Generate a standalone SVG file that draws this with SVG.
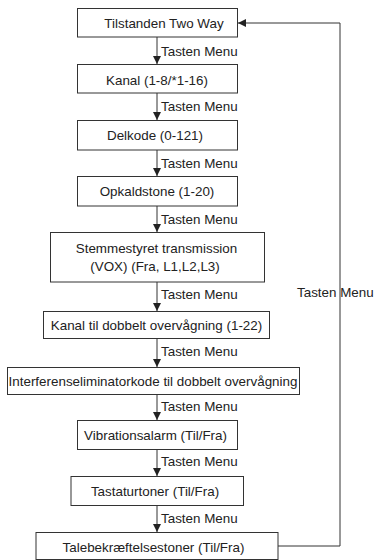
<svg xmlns="http://www.w3.org/2000/svg" width="378" height="560" viewBox="0 0 378 560">
<style>
.b{fill:#fff;stroke:#333;stroke-width:1}
.t{font-family:"Liberation Sans",Arial,sans-serif;font-size:13.4px;fill:#222;text-anchor:middle}
.l{font-family:"Liberation Sans",Arial,sans-serif;font-size:13.4px;fill:#222}
.c{fill:none;stroke:#333;stroke-width:1}
</style>
<defs>
<marker id="ah" viewBox="0 0 10 10" refX="10" refY="5" markerWidth="8" markerHeight="8" markerUnits="userSpaceOnUse" orient="auto">
<path d="M0,0L10,5L0,10z" fill="#222"/>
</marker>
</defs>
<rect width="378" height="560" fill="#fff"/>
<g id="connectors">
<line class="c" x1="157" y1="37" x2="157" y2="64" marker-end="url(#ah)"/>
<line class="c" x1="157" y1="93" x2="157" y2="120" marker-end="url(#ah)"/>
<line class="c" x1="157" y1="150" x2="157" y2="176" marker-end="url(#ah)"/>
<line class="c" x1="157" y1="206" x2="157" y2="232" marker-end="url(#ah)"/>
<line class="c" x1="157" y1="282" x2="157" y2="311" marker-end="url(#ah)"/>
<line class="c" x1="157" y1="338" x2="157" y2="367" marker-end="url(#ah)"/>
<line class="c" x1="157" y1="394" x2="157" y2="420" marker-end="url(#ah)"/>
<line class="c" x1="157" y1="449" x2="157" y2="476" marker-end="url(#ah)"/>
<line class="c" x1="157" y1="505" x2="157" y2="532" marker-end="url(#ah)"/>
<polyline class="c" points="278,546 340,546 340,23 238,23" marker-end="url(#ah)"/>
<text class="l" x="161" y="56">Tasten Menu</text>
<text class="l" x="161" y="111">Tasten Menu</text>
<text class="l" x="161" y="168">Tasten Menu</text>
<text class="l" x="161" y="224">Tasten Menu</text>
<text class="l" x="161" y="298.5">Tasten Menu</text>
<text class="l" x="161" y="355.5">Tasten Menu</text>
<text class="l" x="161" y="411">Tasten Menu</text>
<text class="l" x="161" y="466">Tasten Menu</text>
<text class="l" x="161" y="523">Tasten Menu</text>
<text class="l" x="297" y="297">Tasten Menu</text>
</g>
<g id="n1"><rect class="b" x="77.5" y="8.5" width="160" height="28.5"/><text class="t" x="164" y="27.5">Tilstanden Two Way</text></g>
<g id="n2"><rect class="b" x="77.5" y="64.5" width="160" height="28.5"/><text class="t" x="157" y="84.5">Kanal (1-8/*1-16)</text></g>
<g id="n3"><rect class="b" x="77.5" y="120.5" width="160" height="29.5"/><text class="t" x="155" y="140">Delkode (0-121)</text></g>
<g id="n4"><rect class="b" x="77.5" y="176.5" width="160" height="29.5"/><text class="t" x="157" y="196">Opkaldstone (1-20)</text></g>
<g id="n5"><rect class="b" x="50.5" y="232.5" width="214" height="49.5"/><text class="t" x="156.5" y="253">Stemmestyret transmission</text><text class="t" x="155" y="271">(VOX) (Fra, L1,L2,L3)</text></g>
<g id="n6"><rect class="b" x="43.5" y="311.5" width="226" height="27"/><text class="t" x="156.5" y="329.5">Kanal til dobbelt overvågning (1-22)</text></g>
<g id="n7"><rect class="b" x="7.5" y="367.5" width="292" height="27"/><text class="t" x="153" y="385.5">Interferenseliminatorkode til dobbelt overvågning</text></g>
<g id="n8"><rect class="b" x="77.5" y="420.5" width="160" height="29"/><text class="t" x="155.5" y="439.5">Vibrationsalarm (Til/Fra)</text></g>
<g id="n9"><rect class="b" x="71" y="476.5" width="172.5" height="29"/><text class="t" x="155" y="496">Tastaturtoner (Til/Fra)</text></g>
<g id="n10"><rect class="b" x="36" y="532.5" width="242" height="27"/><text class="t" x="153.5" y="552">Talebekræftelsestoner (Til/Fra)</text></g>
</svg>
